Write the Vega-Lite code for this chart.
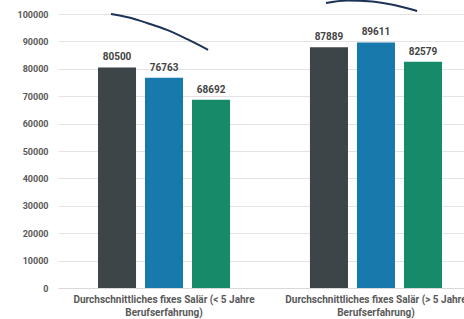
{
  "$schema": "https://vega.github.io/schema/vega-lite/v6.json",
  "autosize": "none",
  "width": 424,
  "height": 274,
  "padding": {"left": 58, "top": 14, "right": 0, "bottom": 31},
  "background": "white",
  "config": {"view": {"stroke": null}, "font": "Roboto"},
  "datasets": {
    "bars": [
      {"cat": "Durchschnittliches fixes Salär (< 5 Jahre|Berufserfahrung)", "series": "A", "value": 80500},
      {"cat": "Durchschnittliches fixes Salär (< 5 Jahre|Berufserfahrung)", "series": "B", "value": 76763},
      {"cat": "Durchschnittliches fixes Salär (< 5 Jahre|Berufserfahrung)", "series": "C", "value": 68692},
      {"cat": "Durchschnittliches fixes Salär (> 5 Jahre|Berufserfahrung)", "series": "A", "value": 87889},
      {"cat": "Durchschnittliches fixes Salär (> 5 Jahre|Berufserfahrung)", "series": "B", "value": 89611},
      {"cat": "Durchschnittliches fixes Salär (> 5 Jahre|Berufserfahrung)", "series": "C", "value": 82579}
    ],
    "arcs": [
      {"arc": 1, "pos": 12.5, "value": 100000},
      {"arc": 1, "pos": 17, "value": 98600},
      {"arc": 1, "pos": 21, "value": 96700},
      {"arc": 1, "pos": 25.7, "value": 94200},
      {"arc": 1, "pos": 30.5, "value": 90800},
      {"arc": 1, "pos": 35.4, "value": 86900},
      {"arc": 2, "pos": 63.2, "value": 104000},
      {"arc": 2, "pos": 68.2, "value": 104900},
      {"arc": 2, "pos": 74.1, "value": 104600},
      {"arc": 2, "pos": 79.5, "value": 103200},
      {"arc": 2, "pos": 84.7, "value": 101100}
    ]
  },
  "encoding": {
    "y": {
      "field": "value", "type": "quantitative",
      "scale": {"domain": [0, 100000], "nice": false},
      "axis": {
        "title": null, "values": [0,10000,20000,30000,40000,50000,60000,70000,80000,90000,100000],
        "labelOverlap": false,
        "format": "d", "ticks": false, "domain": false, "labelPadding": 10,
        "gridColor": "#e3e3e3", "labelFont": "Roboto", "labelFontWeight": "bold",
        "labelFontSize": 9, "labelColor": "#595959"
      }
    }
  },
  "layer": [
    {
      "data": {"name": "bars"},
      "encoding": {
        "x": {
          "field": "cat", "type": "nominal", "sort": null,
          "scale": {"paddingInner": 0.377, "paddingOuter": 0.1887},
          "axis": {
            "title": null, "labelAngle": 0, "ticks": false, "domain": true,
            "domainColor": "#d9d9d9", "labelPadding": 6,
            "labelExpr": "split(datum.label, '|')",
            "labelFont": "Roboto", "labelFontWeight": "bold", "labelFontSize": 10,
            "labelColor": "#595959", "labelLineHeight": 13, "labelLimit": 0
          }
        },
        "xOffset": {"field": "series", "type": "nominal", "scale": {"paddingInner": 0.191, "paddingOuter": 0}}
      },
      "layer": [
        {
          "mark": {"type": "bar"},
          "encoding": {
            "color": {
              "field": "series", "type": "nominal",
              "scale": {"domain": ["A", "B", "C"], "range": ["#3d4548", "#1779ac", "#168a69"]},
              "legend": null
            }
          }
        },
        {
          "mark": {"type": "text", "baseline": "bottom", "dy": -5, "font": "Roboto", "fontWeight": "bold", "fontSize": 10, "color": "#444444"},
          "encoding": {
            "text": {"field": "value", "type": "quantitative", "format": "d"}
          }
        }
      ]
    },
    {
      "data": {"name": "arcs"},
      "mark": {"type": "line", "interpolate": "monotone", "clip": false, "color": "#1c3358", "strokeWidth": 2},
      "encoding": {
        "x": {"field": "pos", "type": "quantitative", "scale": {"domain": [0, 100]}, "axis": null},
        "detail": {"field": "arc", "type": "nominal"}
      }
    }
  ],
  "resolve": {"scale": {"x": "independent"}}
}
